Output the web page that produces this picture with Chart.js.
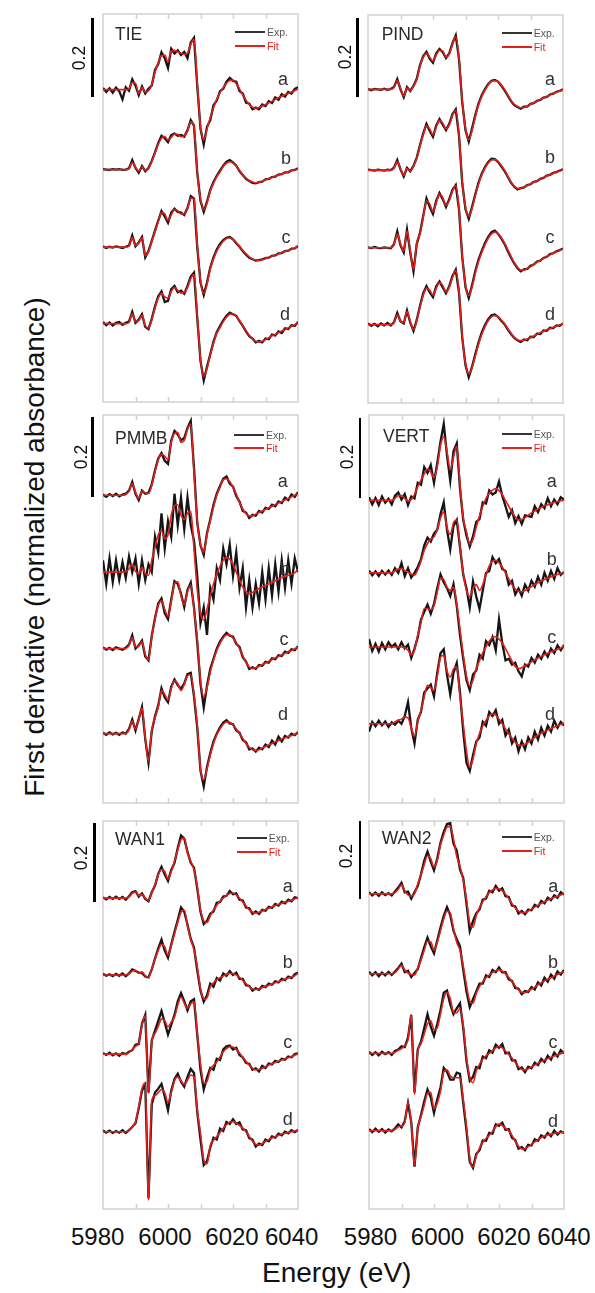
<!DOCTYPE html>
<html><head><meta charset="utf-8">
<script src="https://cdn.jsdelivr.net/npm/chart.js@4.4.1/dist/chart.umd.min.js"></script>
<style>
body{margin:0;background:#fff;}
#fig{position:relative;width:595px;height:1293px;overflow:hidden;background:#fff;font-family:"Liberation Sans",Arial,Helvetica,sans-serif;}
#fig canvas{position:absolute;}
.t{position:absolute;white-space:nowrap;line-height:1;}
.bar{position:absolute;background:#000;}
.lg{position:absolute;height:2px;width:30px;}
</style></head><body><div id="fig"></div>
<script>
// ---------------- DATA ----------------
const energy = [5980,5981,5982,5983,5984,5985,5986,5987,5988,5989,5990,5991,5992,5993,5994,5995,5996,5997,5998,5999,6000,6001,6002,6003,6004,6005,6006,6007,6008,6009,6010,6011,6012,6013,6014,6015,6016,6017,6018,6019,6020,6021,6022,6023,6024,6025,6026,6027,6028,6029,6030,6031,6032,6033,6034,6035,6036,6037,6038,6039,6040];
const tickEnergies = [5990,6000,6010,6020,6030];
const tickLabels = ['5980','6000','6020','6040'];
const curveLetters = ['a','b','c','d'];
const panelNames = ['TIE','PIND','PMMB','VERT','WAN1','WAN2'];

// TIE
const tieFitA=[0,0,0,0,0,0,0,0,0.002,0.018,0.016,-0.010,0.005,-0.006,-0.003,0.012,0.045,0.068,0.087,0.088,0.070,0.098,0.100,0.096,0.093,0.090,0.093,0.116,0.128,0.015,-0.095,-0.128,-0.100,-0.072,-0.047,-0.024,-0.008,0.005,0.016,0.023,0.024,0.015,0.002,-0.013,-0.027,-0.038,-0.045,-0.048,-0.046,-0.042,-0.038,-0.034,-0.030,-0.025,-0.021,-0.017,-0.013,-0.010,-0.006,-0.003,0.002];
const tieExpA=[0.004,-0.006,0.003,-0.008,0.005,-0.004,-0.025,0.006,-0.003,0.026,0.010,-0.014,0.008,-0.010,0.002,0.010,0.050,0.065,0.095,0.080,0.055,0.104,0.092,0.100,0.088,0.096,0.080,0.120,0.132,0.010,-0.100,-0.140,-0.095,-0.078,-0.040,-0.028,-0.004,0.002,0.020,0.030,0.022,0.020,-0.004,-0.010,-0.033,-0.036,-0.050,-0.046,-0.050,-0.038,-0.042,-0.030,-0.034,-0.020,-0.026,-0.012,-0.018,-0.006,-0.010,0.002,0.006];
const tieFitB=[0,0,0,0,0,0,0,0,0.002,0.018,0.006,-0.004,0.007,-0.002,0.003,0.020,0.042,0.065,0.080,0.084,0.075,0.082,0.090,0.090,0.084,0.086,0.098,0.122,0.110,-0.005,-0.075,-0.103,-0.085,-0.055,-0.035,-0.018,-0.006,0.008,0.016,0.020,0.017,0.009,-0.002,-0.013,-0.022,-0.028,-0.032,-0.034,-0.033,-0.030,-0.026,-0.023,-0.020,-0.017,-0.014,-0.011,-0.008,-0.006,-0.003,-0.001,0.002];
const tieExpB=[0.001,0,-0.001,0.001,0,0.001,-0.001,0,0.003,0.024,0.004,-0.008,0.009,-0.004,0.004,0.022,0.044,0.068,0.086,0.080,0.070,0.088,0.092,0.086,0.088,0.084,0.100,0.126,0.112,-0.008,-0.080,-0.108,-0.082,-0.052,-0.032,-0.016,-0.003,0.010,0.020,0.024,0.018,0.010,-0.004,-0.014,-0.024,-0.029,-0.034,-0.035,-0.032,-0.031,-0.025,-0.024,-0.019,-0.018,-0.013,-0.012,-0.007,-0.007,-0.002,-0.001,0.003];
const tieFitC=[0,0,0,0,0,0,0,0,0.003,0.025,0.004,0.010,0.024,-0.022,-0.012,0.015,0.040,0.065,0.088,0.085,0.068,0.082,0.096,0.093,0.085,0.085,0.098,0.125,0.122,0.005,-0.085,-0.118,-0.095,-0.055,-0.030,-0.010,0.004,0.015,0.022,0.024,0.020,0.012,0.002,-0.008,-0.017,-0.025,-0.030,-0.033,-0.034,-0.032,-0.029,-0.026,-0.023,-0.020,-0.017,-0.014,-0.011,-0.008,-0.005,-0.002,0.002];
const tieExpC=[0.002,-0.002,0.001,-0.001,0.002,0,-0.002,0.001,0.004,0.030,0.002,0.012,0.026,-0.026,-0.010,0.016,0.042,0.068,0.092,0.078,0.062,0.088,0.098,0.090,0.088,0.082,0.100,0.130,0.124,0.000,-0.090,-0.122,-0.090,-0.052,-0.026,-0.006,0.008,0.018,0.024,0.026,0.020,0.010,0.001,-0.010,-0.019,-0.027,-0.031,-0.034,-0.033,-0.031,-0.028,-0.027,-0.022,-0.021,-0.016,-0.015,-0.010,-0.009,-0.004,-0.003,0.003];
const tieFitD=[0,0,0,0,0,0,0,0,0.003,0.025,0.005,0.008,0.021,-0.005,-0.012,0.010,0.040,0.065,0.077,0.068,0.065,0.082,0.092,0.085,0.078,0.080,0.092,0.115,0.126,0.020,-0.090,-0.135,-0.115,-0.080,-0.050,-0.025,-0.010,0.005,0.016,0.024,0.025,0.018,0.008,-0.005,-0.018,-0.030,-0.040,-0.045,-0.047,-0.045,-0.041,-0.036,-0.031,-0.027,-0.023,-0.019,-0.015,-0.011,-0.007,-0.003,0.003];
const tieExpD=[0.004,-0.004,0.003,-0.005,0.002,0.004,-0.003,0.002,0.005,0.030,0.002,0.010,0.024,-0.008,-0.014,0.012,0.044,0.070,0.082,0.055,0.058,0.088,0.096,0.080,0.084,0.076,0.096,0.120,0.130,0.015,-0.095,-0.145,-0.110,-0.078,-0.046,-0.022,-0.006,0.008,0.020,0.028,0.024,0.020,0.006,-0.006,-0.020,-0.032,-0.038,-0.048,-0.044,-0.048,-0.038,-0.040,-0.028,-0.030,-0.020,-0.024,-0.012,-0.014,-0.004,-0.006,0.004];
const tieOffsets=[0.797,0.593,0.395,0.2];

// PIND
const pindFitA=[0,0,0,0,0,0,0,0,0.005,0.022,0.003,-0.017,0.004,-0.003,0.008,0.025,0.060,0.082,0.092,0.082,0.072,0.088,0.100,0.098,0.082,0.090,0.115,0.135,0.080,-0.030,-0.100,-0.128,-0.105,-0.070,-0.040,-0.018,-0.002,0.012,0.020,0.022,0.020,0.012,0.000,-0.014,-0.028,-0.038,-0.044,-0.047,-0.046,-0.043,-0.038,-0.034,-0.030,-0.026,-0.022,-0.018,-0.014,-0.010,-0.007,-0.004,-0.001];
const pindExpA=[0.001,-0.002,0.001,0,-0.001,0.002,-0.001,0.001,0.006,0.026,0.000,-0.020,0.006,-0.004,0.009,0.027,0.062,0.085,0.096,0.078,0.068,0.092,0.103,0.095,0.080,0.092,0.118,0.138,0.078,-0.034,-0.104,-0.133,-0.100,-0.066,-0.036,-0.015,0.001,0.014,0.022,0.024,0.020,0.010,-0.002,-0.016,-0.030,-0.040,-0.045,-0.049,-0.044,-0.044,-0.037,-0.035,-0.029,-0.027,-0.021,-0.019,-0.013,-0.011,-0.006,-0.004,0.000];
const pindFitB=[0,0,0,0,0,0,0,0,0.005,0.022,0.004,-0.013,0.004,-0.002,0.010,0.030,0.062,0.090,0.113,0.105,0.090,0.110,0.127,0.120,0.105,0.115,0.140,0.152,0.090,-0.030,-0.095,-0.118,-0.098,-0.065,-0.035,-0.012,0.005,0.018,0.026,0.027,0.022,0.012,0.000,-0.015,-0.030,-0.041,-0.047,-0.046,-0.043,-0.039,-0.035,-0.031,-0.027,-0.023,-0.019,-0.015,-0.011,-0.008,-0.005,-0.002,0.002];
const pindExpB=[0.001,0,-0.001,0.001,0,-0.001,0.001,0,0.006,0.026,0.002,-0.016,0.006,-0.003,0.011,0.032,0.064,0.094,0.118,0.100,0.085,0.114,0.130,0.116,0.102,0.118,0.143,0.155,0.088,-0.034,-0.100,-0.124,-0.094,-0.062,-0.032,-0.009,0.008,0.021,0.029,0.028,0.021,0.010,-0.002,-0.017,-0.032,-0.042,-0.049,-0.046,-0.044,-0.038,-0.036,-0.030,-0.028,-0.022,-0.020,-0.014,-0.012,-0.007,-0.005,-0.001,0.002];
const pindFitC=[0,0,0,0,0,0,0,0,0.008,0.035,0.010,-0.008,0.042,-0.008,-0.055,0.012,0.036,0.078,0.120,0.112,0.092,0.115,0.137,0.128,0.108,0.120,0.145,0.158,0.100,-0.020,-0.095,-0.122,-0.100,-0.065,-0.035,-0.012,0.008,0.024,0.035,0.040,0.036,0.026,0.012,-0.005,-0.022,-0.038,-0.050,-0.057,-0.057,-0.053,-0.048,-0.042,-0.037,-0.032,-0.027,-0.022,-0.018,-0.014,-0.010,-0.006,-0.003];
const pindExpC=[0.001,-0.001,0.002,0,-0.001,0.001,0,-0.001,0.009,0.042,0.006,-0.012,0.046,-0.012,-0.060,0.010,0.038,0.082,0.126,0.104,0.086,0.120,0.140,0.124,0.104,0.124,0.148,0.160,0.098,-0.024,-0.100,-0.128,-0.096,-0.060,-0.030,-0.008,0.012,0.028,0.040,0.044,0.036,0.024,0.010,-0.008,-0.025,-0.040,-0.052,-0.060,-0.055,-0.054,-0.046,-0.043,-0.035,-0.033,-0.026,-0.023,-0.016,-0.014,-0.009,-0.006,-0.002];
const pindFitD=[0,0,0,0,0,0,0,0,0.005,0.025,0.010,0.005,0.033,0.008,-0.013,0.010,0.045,0.075,0.093,0.088,0.075,0.093,0.107,0.100,0.083,0.095,0.120,0.137,0.085,-0.030,-0.100,-0.126,-0.110,-0.080,-0.050,-0.025,-0.005,0.010,0.020,0.023,0.020,0.012,0.002,-0.010,-0.022,-0.032,-0.039,-0.041,-0.040,-0.037,-0.033,-0.029,-0.025,-0.021,-0.017,-0.013,-0.010,-0.007,-0.004,-0.001,0.002];
const pindExpD=[0.003,-0.003,0.002,-0.004,0.003,-0.002,0.004,-0.002,0.006,0.030,0.008,0.003,0.036,0.005,-0.016,0.012,0.048,0.080,0.098,0.082,0.070,0.098,0.110,0.095,0.080,0.098,0.124,0.140,0.082,-0.034,-0.104,-0.134,-0.108,-0.076,-0.046,-0.020,-0.001,0.014,0.024,0.026,0.020,0.010,0.001,-0.012,-0.024,-0.034,-0.040,-0.044,-0.038,-0.040,-0.031,-0.032,-0.023,-0.024,-0.015,-0.016,-0.008,-0.009,-0.002,-0.003,0.003];
const pindOffsets=[0.8,0.594,0.396,0.2];

// PMMB
const pmmbFitA=[0,0,0,0,0,0,0,0.002,0.010,0.030,0.008,-0.008,0.010,0.006,0.005,0.025,0.060,0.090,0.105,0.100,0.090,0.135,0.158,0.160,0.135,0.140,0.168,0.182,0.060,-0.065,-0.125,-0.145,-0.100,-0.065,-0.030,0.000,0.020,0.040,0.042,0.035,0.020,0.003,-0.018,-0.035,-0.047,-0.053,-0.052,-0.048,-0.044,-0.040,-0.036,-0.032,-0.028,-0.024,-0.020,-0.016,-0.012,-0.008,-0.004,0.000,0.005];
const pmmbExpA=[0.002,-0.004,0.003,-0.002,0.004,-0.003,0.002,0.004,0.012,0.034,0.004,-0.012,0.012,0.004,0.006,0.028,0.064,0.094,0.108,0.088,0.080,0.140,0.164,0.155,0.140,0.146,0.172,0.190,0.070,-0.070,-0.128,-0.152,-0.096,-0.062,-0.024,0.004,0.024,0.042,0.048,0.030,0.022,-0.002,-0.016,-0.040,-0.044,-0.058,-0.050,-0.052,-0.040,-0.044,-0.032,-0.035,-0.024,-0.028,-0.016,-0.020,-0.006,-0.012,0.002,-0.004,0.008];
const pmmbFitB=[0,0,0,0,0,0,0,0.002,0.008,0.020,0.002,-0.005,0.012,-0.005,-0.008,0.030,0.062,0.095,0.105,0.085,0.095,0.145,0.170,0.172,0.145,0.134,0.150,0.155,0.060,-0.045,-0.105,-0.122,-0.095,-0.060,-0.030,-0.005,0.015,0.030,0.037,0.033,0.020,0.000,-0.020,-0.038,-0.050,-0.055,-0.052,-0.047,-0.042,-0.038,-0.034,-0.030,-0.026,-0.022,-0.018,-0.014,-0.011,-0.008,-0.005,-0.002,0.008];
const pmmbExpB=[0.030,-0.030,0.035,-0.025,0.030,-0.020,0.025,-0.015,0.040,0.000,0.035,-0.030,0.030,-0.020,0.020,0.000,0.090,0.050,0.150,0.060,0.130,0.090,0.200,0.120,0.190,0.110,0.190,0.120,0.080,-0.010,-0.130,-0.090,-0.160,-0.040,-0.070,0.010,-0.020,0.060,0.020,0.070,-0.010,0.050,-0.040,0.010,-0.090,-0.020,-0.090,-0.030,-0.080,0.000,-0.070,0.010,-0.060,0.020,-0.050,0.030,-0.040,0.030,-0.030,0.035,0.000];
const pmmbFitC=[0,0,0,0,0,0,0,0,0.008,0.028,0.004,0.006,0.017,-0.015,-0.028,0.030,0.075,0.110,0.122,0.100,0.082,0.120,0.165,0.170,0.135,0.112,0.145,0.162,0.100,0.025,-0.080,-0.123,-0.100,-0.060,-0.030,-0.005,0.013,0.027,0.035,0.035,0.027,0.015,0.000,-0.018,-0.035,-0.047,-0.051,-0.049,-0.045,-0.041,-0.037,-0.033,-0.028,-0.024,-0.020,-0.016,-0.012,-0.008,-0.005,-0.001,0.004];
const pmmbExpC=[0.003,-0.003,0.002,-0.004,0.003,0.000,-0.003,0.002,0.010,0.034,0.000,0.008,0.020,-0.020,-0.030,0.032,0.078,0.115,0.128,0.090,0.075,0.125,0.172,0.165,0.140,0.106,0.150,0.168,0.105,0.015,-0.090,-0.150,-0.095,-0.052,-0.026,0.000,0.018,0.030,0.040,0.033,0.030,0.012,0.004,-0.022,-0.033,-0.052,-0.048,-0.052,-0.042,-0.044,-0.034,-0.036,-0.025,-0.027,-0.017,-0.019,-0.008,-0.011,-0.002,-0.004,0.006];
const pmmbFitD=[0,0,0,0,0,0,0,0,0.010,0.032,0.012,0.035,0.065,-0.010,-0.070,0.008,0.040,0.068,0.110,0.100,0.086,0.115,0.135,0.128,0.110,0.125,0.148,0.150,0.100,0.020,-0.090,-0.118,-0.090,-0.055,-0.025,-0.003,0.012,0.024,0.030,0.029,0.022,0.012,0.000,-0.012,-0.025,-0.035,-0.041,-0.043,-0.041,-0.037,-0.033,-0.029,-0.025,-0.021,-0.018,-0.014,-0.011,-0.008,-0.005,-0.002,0.003];
const pmmbExpD=[0.002,-0.003,0.003,-0.002,0.002,-0.003,0.003,0.000,0.012,0.036,0.008,0.038,0.068,-0.014,-0.074,0.006,0.044,0.072,0.116,0.092,0.080,0.120,0.138,0.124,0.114,0.128,0.152,0.155,0.095,0.015,-0.095,-0.135,-0.085,-0.050,-0.020,0.000,0.016,0.028,0.034,0.026,0.024,0.008,0.002,-0.016,-0.022,-0.040,-0.038,-0.046,-0.036,-0.040,-0.028,-0.034,-0.018,-0.028,-0.008,-0.020,-0.006,-0.010,0.000,-0.004,0.004];
const pmmbOffsets=[0.785,0.589,0.394,0.177];

// VERT
const vertFitA=[0,0,0,0,0,0,0,0,0.005,0.012,0.012,0.005,-0.002,0.002,0.015,0.035,0.052,0.068,0.080,0.072,0.058,0.085,0.140,0.162,0.125,0.078,0.110,0.138,0.040,-0.045,-0.080,-0.112,-0.100,-0.068,-0.040,-0.015,0.005,0.018,0.026,0.030,0.025,0.015,0.000,-0.015,-0.030,-0.042,-0.050,-0.049,-0.044,-0.038,-0.032,-0.027,-0.022,-0.018,-0.014,-0.011,-0.008,-0.005,-0.003,-0.001,0.000];
const vertExpA=[0.008,-0.010,0.006,-0.012,0.010,-0.006,0.004,-0.010,0.012,0.020,0.002,0.016,-0.012,0.010,0.005,0.045,0.040,0.085,0.070,0.090,0.045,0.095,0.150,0.195,0.115,0.050,0.125,0.145,0.030,-0.050,-0.090,-0.118,-0.092,-0.055,-0.048,-0.005,-0.008,0.025,0.015,0.020,0.048,0.012,-0.015,-0.042,-0.025,-0.058,-0.040,-0.060,-0.038,-0.040,-0.042,-0.015,-0.030,-0.010,-0.020,0.005,-0.015,0.002,-0.010,0.008,0.002];
const vertFitB=[0,0,0,0,0,0,0,0,0.005,0.010,0.011,0.006,0.002,-0.003,-0.006,0.008,0.030,0.058,0.075,0.086,0.092,0.110,0.140,0.155,0.115,0.098,0.128,0.135,0.070,0.000,-0.045,-0.060,-0.040,-0.030,-0.045,-0.030,-0.005,0.018,0.030,0.032,0.026,0.015,0.000,-0.015,-0.030,-0.041,-0.047,-0.048,-0.045,-0.040,-0.035,-0.030,-0.025,-0.021,-0.017,-0.013,-0.010,-0.007,-0.004,-0.002,0.000];
const vertExpB=[0.006,-0.006,0.004,-0.008,0.005,-0.004,0.006,-0.005,0.012,0.000,0.025,-0.008,0.012,-0.012,0.000,0.015,0.035,0.070,0.090,0.080,0.100,0.110,0.150,0.180,0.110,0.060,0.120,0.135,0.065,-0.005,-0.040,-0.088,-0.022,-0.060,-0.092,-0.045,0.000,0.005,0.040,0.025,0.035,0.010,0.005,-0.030,-0.020,-0.055,-0.040,-0.058,-0.030,-0.045,-0.020,-0.035,-0.010,-0.030,0.000,-0.020,0.005,-0.015,0.012,-0.005,0.002];
const vertFitC=[0,0,0,0,0,0,0,0,0,0,0.000,-0.002,-0.008,-0.020,-0.008,0.030,0.062,0.098,0.098,0.095,0.105,0.140,0.176,0.172,0.152,0.145,0.152,0.110,0.045,-0.020,-0.075,-0.100,-0.085,-0.055,-0.035,-0.015,0.000,0.015,0.024,0.026,0.020,0.010,-0.004,-0.020,-0.036,-0.050,-0.055,-0.053,-0.048,-0.043,-0.038,-0.033,-0.028,-0.024,-0.020,-0.016,-0.012,-0.009,-0.006,-0.003,0.002];
const vertExpC=[0.020,-0.010,0.008,-0.012,0.010,-0.006,0.012,0.000,0.008,-0.006,0.012,-0.004,0.006,-0.028,-0.004,0.025,0.070,0.090,0.108,0.085,0.110,0.150,0.185,0.165,0.150,0.130,0.160,0.105,0.030,-0.030,-0.085,-0.110,-0.070,-0.060,-0.020,-0.030,0.015,0.005,0.025,-0.008,0.070,0.010,-0.034,-0.030,-0.045,-0.040,-0.062,-0.075,-0.045,-0.050,-0.028,-0.040,-0.020,-0.030,-0.012,-0.025,-0.004,-0.015,0.004,-0.008,0.005];
const vertFitD=[0,0,0,0,0,0,0,0,0.005,0.009,0.012,0.017,0.015,-0.010,-0.032,0.005,0.034,0.070,0.098,0.092,0.085,0.120,0.170,0.175,0.135,0.120,0.140,0.145,0.070,0.000,-0.070,-0.111,-0.090,-0.050,-0.025,-0.005,0.009,0.020,0.026,0.022,0.012,0.000,-0.013,-0.025,-0.037,-0.047,-0.054,-0.055,-0.052,-0.047,-0.041,-0.035,-0.029,-0.024,-0.020,-0.016,-0.012,-0.008,-0.005,-0.002,0.002];
const vertExpD=[-0.020,0.005,-0.006,0.008,-0.004,0.006,-0.008,0.004,-0.002,0.008,0.000,0.020,0.055,-0.010,-0.050,0.010,0.030,0.080,0.090,0.100,0.070,0.130,0.180,0.190,0.125,0.075,0.130,0.155,0.080,-0.020,-0.100,-0.120,-0.080,-0.045,-0.035,0.005,-0.005,0.030,0.020,0.035,0.000,0.010,-0.030,-0.015,-0.050,-0.035,-0.070,-0.045,-0.065,-0.035,-0.050,-0.020,-0.040,-0.010,-0.030,-0.005,-0.020,0.008,-0.010,0.005,-0.004];
const vertOffsets=[0.772,0.587,0.398,0.202];

// WAN1
const wan1FitA=[0,0,0,0,0,0,0,0,0.003,0.012,0.016,0.006,0.010,0.000,-0.006,0.013,0.034,0.060,0.073,0.068,0.049,0.068,0.094,0.123,0.149,0.153,0.115,0.094,0.072,0.030,-0.030,-0.058,-0.062,-0.045,-0.030,-0.018,-0.008,0.000,0.007,0.012,0.013,0.008,0.000,-0.010,-0.020,-0.030,-0.036,-0.038,-0.036,-0.033,-0.029,-0.026,-0.022,-0.019,-0.016,-0.013,-0.010,-0.008,-0.005,-0.002,0.002];
const wan1ExpA=[0.002,-0.003,0.003,-0.002,0.004,-0.002,0.003,-0.004,0.005,0.015,0.018,0.004,0.012,-0.002,-0.008,0.015,0.032,0.062,0.080,0.060,0.044,0.072,0.090,0.128,0.160,0.152,0.118,0.090,0.078,0.025,-0.035,-0.066,-0.058,-0.040,-0.034,-0.012,-0.010,0.004,0.006,0.018,0.010,0.012,-0.004,-0.006,-0.024,-0.026,-0.040,-0.034,-0.040,-0.030,-0.032,-0.022,-0.025,-0.015,-0.019,-0.009,-0.013,-0.004,-0.008,0.002,0.000];
const wan1FitB=[0,0,0,0,0,0,0,0,0.003,0.010,0.012,0.004,0.008,-0.002,-0.005,0.015,0.040,0.063,0.078,0.072,0.050,0.075,0.105,0.135,0.160,0.165,0.125,0.090,0.064,0.020,-0.035,-0.062,-0.058,-0.030,-0.020,-0.012,-0.007,-0.003,0.002,0.004,0.003,0.000,-0.006,-0.014,-0.022,-0.030,-0.036,-0.037,-0.035,-0.032,-0.029,-0.026,-0.023,-0.020,-0.017,-0.014,-0.011,-0.008,-0.005,-0.002,0.004];
const wan1ExpB=[0.003,-0.002,0.002,-0.003,0.003,-0.002,0.004,-0.003,0.004,0.014,0.010,0.006,0.005,-0.004,-0.006,0.014,0.042,0.068,0.090,0.062,0.044,0.078,0.110,0.140,0.172,0.162,0.128,0.092,0.070,0.012,-0.040,-0.068,-0.052,-0.022,-0.030,-0.008,-0.014,0.004,-0.002,0.010,0.000,0.006,-0.010,-0.010,-0.026,-0.028,-0.040,-0.034,-0.038,-0.028,-0.031,-0.022,-0.025,-0.016,-0.019,-0.010,-0.013,-0.004,-0.008,0.002,0.006];
const wan1FitC=[0,0,0,0,0,0,0,0,0.004,0.012,0.020,0.028,0.075,0.098,-0.100,0.031,0.053,0.070,0.090,0.085,0.070,0.082,0.095,0.125,0.146,0.130,0.117,0.128,0.134,0.053,-0.024,-0.075,-0.070,-0.041,-0.028,-0.020,-0.007,0.006,0.014,0.019,0.018,0.012,0.003,-0.008,-0.018,-0.028,-0.036,-0.040,-0.039,-0.036,-0.032,-0.028,-0.024,-0.021,-0.018,-0.015,-0.012,-0.009,-0.006,-0.003,0.001];
const wan1ExpC=[0.003,-0.002,0.004,-0.003,0.002,-0.004,0.003,0.000,0.006,0.010,0.024,0.026,0.078,0.100,-0.098,0.035,0.060,0.085,0.110,0.080,0.050,0.075,0.100,0.135,0.156,0.135,0.112,0.135,0.140,0.050,-0.040,-0.090,-0.060,-0.035,-0.040,-0.012,-0.015,0.012,0.020,0.022,0.012,0.016,-0.002,-0.008,-0.022,-0.025,-0.040,-0.036,-0.044,-0.030,-0.035,-0.024,-0.026,-0.017,-0.020,-0.012,-0.014,-0.006,-0.008,0.000,0.002];
const wan1FitD=[0,0,0,0,0,0,0,0,0.003,0.012,0.025,0.064,0.110,0.125,-0.175,0.080,0.092,0.100,0.108,0.100,0.075,0.100,0.130,0.140,0.130,0.120,0.132,0.145,0.140,0.055,-0.004,-0.072,-0.082,-0.035,-0.022,-0.012,-0.002,0.009,0.018,0.025,0.026,0.022,0.016,0.010,0.000,-0.012,-0.024,-0.032,-0.034,-0.030,-0.025,-0.020,-0.016,-0.012,-0.009,-0.006,-0.004,-0.002,0.000,0.002,0.004];
const wan1ExpD=[0.003,-0.002,0.003,-0.003,0.002,-0.002,0.004,-0.003,0.004,0.012,0.022,0.060,0.105,0.120,-0.170,0.070,0.100,0.110,0.122,0.090,0.055,0.105,0.135,0.148,0.128,0.115,0.140,0.160,0.150,0.050,-0.020,-0.085,-0.075,-0.040,-0.015,-0.020,0.008,0.002,0.025,0.020,0.032,0.020,0.024,0.006,0.004,-0.016,-0.020,-0.038,-0.030,-0.034,-0.020,-0.024,-0.012,-0.015,-0.005,-0.009,0.000,-0.004,0.004,-0.001,0.005];
const wan1Offsets=[0.793,0.597,0.395,0.197];

// WAN2
const wan2FitA=[0,0,0,0,0,0,0,0,0.003,0.012,0.023,0.008,-0.003,-0.006,0.000,0.025,0.048,0.075,0.097,0.090,0.068,0.085,0.125,0.150,0.170,0.172,0.140,0.095,0.070,0.035,-0.015,-0.075,-0.085,-0.055,-0.035,-0.020,-0.008,0.003,0.010,0.014,0.013,0.008,-0.001,-0.012,-0.025,-0.036,-0.044,-0.048,-0.048,-0.044,-0.039,-0.034,-0.029,-0.024,-0.020,-0.016,-0.012,-0.009,-0.006,-0.003,0.001];
const wan2ExpA=[0.004,-0.004,0.003,-0.005,0.004,-0.003,0.002,-0.004,0.006,0.016,0.028,0.004,0.006,-0.012,0.004,0.020,0.050,0.085,0.108,0.082,0.060,0.090,0.130,0.158,0.178,0.180,0.128,0.110,0.062,0.040,-0.025,-0.095,-0.070,-0.050,-0.040,-0.015,-0.012,0.008,0.004,0.020,0.008,0.014,-0.006,-0.008,-0.030,-0.032,-0.050,-0.044,-0.052,-0.040,-0.042,-0.028,-0.033,-0.018,-0.024,-0.010,-0.016,-0.004,-0.010,0.004,-0.002];
const wan2FitB=[0,0,0,0,0,0,0,0,0.003,0.012,0.022,0.010,0.002,-0.002,-0.003,0.015,0.035,0.060,0.083,0.082,0.060,0.080,0.110,0.140,0.160,0.155,0.115,0.080,0.060,0.020,-0.030,-0.070,-0.075,-0.050,-0.033,-0.020,-0.010,-0.003,0.003,0.008,0.010,0.007,0.000,-0.009,-0.020,-0.031,-0.041,-0.047,-0.048,-0.044,-0.039,-0.034,-0.028,-0.023,-0.018,-0.014,-0.010,-0.006,-0.002,0.002,0.006];
const wan2ExpB=[0.005,-0.004,0.004,-0.006,0.003,-0.004,0.005,-0.003,0.006,0.015,0.026,0.004,0.008,-0.008,0.002,0.012,0.040,0.068,0.092,0.070,0.052,0.085,0.118,0.148,0.170,0.150,0.110,0.088,0.070,0.010,-0.045,-0.085,-0.065,-0.045,-0.025,-0.025,-0.004,-0.008,0.010,0.004,0.016,0.004,0.004,-0.014,-0.018,-0.036,-0.038,-0.052,-0.044,-0.046,-0.034,-0.040,-0.022,-0.030,-0.010,-0.020,-0.002,-0.012,0.006,-0.002,0.010];
const wan2FitC=[0,0,0,0,0,0,0,0,0.003,0.008,0.012,0.020,0.035,0.100,-0.105,0.005,0.025,0.050,0.075,0.083,0.060,0.065,0.100,0.140,0.155,0.140,0.105,0.103,0.115,0.070,-0.010,-0.060,-0.075,-0.045,-0.028,-0.015,-0.006,0.000,0.007,0.014,0.018,0.014,0.006,-0.003,-0.012,-0.023,-0.034,-0.041,-0.042,-0.039,-0.034,-0.030,-0.025,-0.021,-0.017,-0.013,-0.010,-0.007,-0.004,-0.001,0.003];
const wan2ExpC=[0.004,-0.004,0.003,-0.005,0.004,-0.002,0.003,-0.004,0.006,0.010,0.018,0.016,0.040,0.098,-0.100,0.010,0.030,0.065,0.100,0.068,0.045,0.075,0.110,0.155,0.160,0.125,0.100,0.115,0.128,0.065,-0.020,-0.070,-0.060,-0.035,-0.038,-0.008,-0.012,0.008,0.002,0.022,0.014,0.024,0.000,0.002,-0.018,-0.018,-0.040,-0.036,-0.048,-0.034,-0.038,-0.024,-0.030,-0.014,-0.022,-0.006,-0.016,0.002,-0.008,0.008,0.000];
const wan2FitD=[0,0,0,0,0,0,0,0,0.003,0.010,0.012,0.020,0.072,0.020,-0.088,0.005,0.035,0.065,0.095,0.098,0.055,0.070,0.100,0.150,0.155,0.140,0.135,0.135,0.135,0.080,0.010,-0.070,-0.093,-0.065,-0.045,-0.030,-0.020,-0.012,-0.002,0.010,0.017,0.013,0.006,0.000,-0.012,-0.027,-0.040,-0.047,-0.046,-0.041,-0.035,-0.029,-0.023,-0.018,-0.014,-0.011,-0.009,-0.007,-0.006,-0.005,-0.004];
const wan2ExpD=[0.004,-0.004,0.005,-0.003,0.004,-0.005,0.003,-0.002,0.006,0.016,0.008,0.024,0.070,0.022,-0.092,0.008,0.040,0.075,0.105,0.085,0.045,0.080,0.110,0.160,0.150,0.130,0.130,0.148,0.145,0.070,0.000,-0.080,-0.095,-0.060,-0.050,-0.025,-0.026,-0.006,-0.008,0.016,0.012,0.020,0.002,0.004,-0.018,-0.024,-0.046,-0.042,-0.050,-0.036,-0.038,-0.022,-0.026,-0.012,-0.018,-0.006,-0.014,0.000,-0.010,-0.002,-0.006];
const wan2Offsets=[0.804,0.6,0.397,0.2];

// ---------------- LAYOUT ----------------
const PXU = 392; // pixels per derivative unit (0.2 bar = 78.4 px)
const panels = [
  {name:panelNames[0], fits:[tieFitA,tieFitB,tieFitC,tieFitD], exps:[tieExpA,tieExpB,tieExpC,tieExpD], offs:tieOffsets,
   box:[103,14,195,388], title:[115,26], letters:[[283,79],[286,158],[286,236.5],[285,314]], legend:[235,31.5,45.5], bar:[92.3,18.3,96.7], lab:[80,57.5]},
  {name:panelNames[1], fits:[pindFitA,pindFitB,pindFitC,pindFitD], exps:[pindExpA,pindExpB,pindExpC,pindExpD], offs:pindOffsets,
   box:[368,15,195,388], title:[381.7,26], letters:[[550,79],[550,157],[550,237],[550,314]], legend:[501.7,33.3,46.7], bar:[357.7,18.3,96.7], lab:[346,57]},
  {name:panelNames[2], fits:[pmmbFitA,pmmbFitB,pmmbFitC,pmmbFitD], exps:[pmmbExpA,pmmbExpB,pmmbExpC,pmmbExpD], offs:pmmbOffsets,
   box:[103,415,195,388], title:[115,429.5], letters:[[282.7,480.5],[285,569],[284,639],[283,714]], legend:[234,435,448.3], bar:[92.3,417,496.7], lab:[81.5,456.5]},
  {name:panelNames[3], fits:[vertFitA,vertFitB,vertFitC,vertFitD], exps:[vertExpA,vertExpB,vertExpC,vertExpD], offs:vertOffsets,
   box:[369,415,195,388], title:[383,427.8], letters:[[551.7,480.5],[551.7,559],[551.7,637],[550,714]], legend:[501.7,434,448.3], bar:[360,418,498], lab:[348,457]},
  {name:panelNames[4], fits:[wan1FitA,wan1FitB,wan1FitC,wan1FitD], exps:[wan1ExpA,wan1ExpB,wan1ExpC,wan1ExpD], offs:wan1Offsets,
   box:[103,821,195,388], title:[115,830.8], letters:[[287.7,885.5],[287.7,962],[287.7,1042],[287.7,1119]], legend:[236.7,838.3,851.7], bar:[94.3,822.7,901.7], lab:[81.5,858]},
  {name:panelNames[5], fits:[wan2FitA,wan2FitB,wan2FitC,wan2FitD], exps:[wan2ExpA,wan2ExpB,wan2ExpC,wan2ExpD], offs:wan2Offsets,
   box:[369,821,195,388], title:[381.7,829.5], letters:[[553.3,885.5],[553,962],[553,1042],[553,1120.5]], legend:[501.7,837,850.7], bar:[360,820.7,899], lab:[346.5,856]}
];
const tickLabelPos = [[97.7,165,232,291.7],[370.5,437.5,504,564]];
const RED = '#e3201b', BLACK = '#151515', FRAME = '#d2d2d2';
const fig = document.getElementById('fig');

function txt(s, x, y, size, color, mode){
  const d = document.createElement('div');
  d.className = 't'; d.textContent = s;
  d.style.left = x + 'px'; d.style.top = y + 'px';
  d.style.fontSize = size + 'px'; d.style.color = color;
  if (mode === 'c') d.style.transform = 'translate(-50%,-50%)';
  else if (mode === 'r') d.style.transform = 'translate(-50%,-50%) rotate(-90deg)';
  else if (mode === 'lv') d.style.transform = 'translate(0,-50%)';
  fig.appendChild(d);
  return d;
}

const framePlugin = {
  id:'frame',
  beforeDatasetsDraw(chart){
    const {ctx, chartArea:a, scales:{x}} = chart;
    ctx.save();
    ctx.strokeStyle = FRAME; ctx.lineWidth = 1.5;
    ctx.strokeRect(a.left, a.top, a.right - a.left, a.bottom - a.top);
    ctx.beginPath();
    for (const v of tickEnergies){
      const px = Math.round(x.getPixelForValue(v)) + 0.5;
      ctx.moveTo(px, a.bottom); ctx.lineTo(px, a.bottom - 5);
      ctx.moveTo(px, a.top); ctx.lineTo(px, a.top + 5);
    }
    ctx.stroke();
    ctx.restore();
  }
};

const PAD = 6;
panels.forEach((p) => {
  const [bx, by, bw, bh] = p.box;
  const cv = document.createElement('canvas');
  cv.width = bw + 2*PAD; cv.height = bh + 2*PAD;
  cv.style.left = (bx - PAD) + 'px'; cv.style.top = (by - PAD) + 'px';
  cv.style.width = cv.width + 'px'; cv.style.height = cv.height + 'px';
  fig.appendChild(cv);
  const datasets = [];
  for (let i = 0; i < 4; i++){
    datasets.push({
      label: 'Exp. ' + curveLetters[i],
      data: energy.map((e, j) => ({x: e, y: p.exps[i][j] + p.offs[i]})),
      borderColor: BLACK, borderWidth: 2.3, pointRadius: 0, tension: 0, order: 2
    });
    datasets.push({
      label: 'Fit ' + curveLetters[i],
      data: energy.map((e, j) => ({x: e, y: p.fits[i][j] + p.offs[i]})),
      borderColor: RED, borderWidth: 1.6, pointRadius: 0, cubicInterpolationMode: 'monotone', order: 1
    });
  }
  new Chart(cv, {
    type: 'line',
    data: {datasets},
    options: {
      responsive: false, animation: false, devicePixelRatio: 1,
      layout: {padding: PAD},
      scales: {
        x: {type: 'linear', min: 5980, max: 6040, display: false},
        y: {min: 0, max: bh / PXU, display: false}
      },
      plugins: {legend: {display: false}, tooltip: {enabled: false}}
    },
    plugins: [framePlugin]
  });

  // title
  txt(p.name, p.title[0], p.title[1], 17.5, '#2a2a2a');
  // letters
  p.letters.forEach((pos, i) => txt(curveLetters[i], pos[0], pos[1], 18, '#333', 'c'));
  // legend
  const [lx, ey, fy] = p.legend;
  const l1 = document.createElement('div'); l1.className = 'lg';
  l1.style.left = lx + 'px'; l1.style.top = (ey - 1) + 'px'; l1.style.background = '#333'; fig.appendChild(l1);
  const l2 = document.createElement('div'); l2.className = 'lg';
  l2.style.left = lx + 'px'; l2.style.top = (fy - 1) + 'px'; l2.style.background = RED; fig.appendChild(l2);
  txt('Exp.', lx + 32, ey, 10.5, '#555', 'lv');
  txt('Fit', lx + 32, fy, 10.5, RED, 'lv');
  // scale bar
  const b = document.createElement('div'); b.className = 'bar';
  b.style.left = (p.bar[0] - 1.25) + 'px'; b.style.top = p.bar[1] + 'px';
  b.style.width = '2.5px'; b.style.height = (p.bar[2] - p.bar[1]) + 'px';
  fig.appendChild(b);
  txt('0.2', p.lab[0], p.lab[1], 17.5, '#111', 'r');
});

// axis tick labels & titles
tickLabelPos.forEach(col => col.forEach((x, i) => txt(tickLabels[i], x, 1236.5, 24, '#111', 'c')));
txt('Energy (eV)', 336.7, 1273, 28, '#111', 'c');
txt('First derivative (normalized absorbance)', 35, 546.5, 28, '#111', 'r');
</script></body></html>
